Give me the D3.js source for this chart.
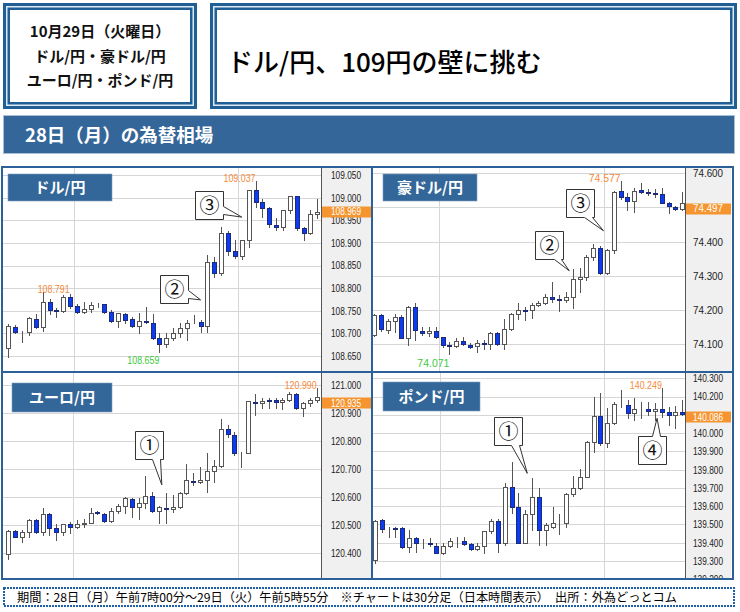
<!DOCTYPE html>
<html><head><meta charset="utf-8">
<script src="https://cdn.jsdelivr.net/npm/d3@7"></script>
<style>html,body{margin:0;padding:0;background:#fff}svg{display:block}</style>
</head><body>
<svg id="c" width="740" height="612"></svg>
<script>
// ---------------- DATA ----------------
const headerLines = ["10月29日（火曜日）", "ドル/円・豪ドル/円", "ユーロ/円・ポンド/円"];
const headline = "ドル/円、109円の壁に挑む";
const bannerText = "28日（月）の為替相場";
const footerText = "期間：28日（月）午前7時00分～29日（火）午前5時55分　※チャートは30分足（日本時間表示）　出所：外為どっとコム";
const pairTitles = ["ドル/円", "豪ドル/円", "ユーロ/円", "ポンド/円"];

// [open, high, low, close] per 30-minute bar
const usdjpy = [
[108.667,108.721,108.648,108.716],[108.715,108.718,108.700,108.702],[108.703,108.705,108.680,108.704],
[108.704,108.737,108.696,108.733],[108.732,108.743,108.711,108.715],[108.715,108.791,108.706,108.770],
[108.770,108.775,108.743,108.751],[108.751,108.755,108.737,108.750],[108.750,108.785,108.748,108.780],
[108.780,108.787,108.755,108.761],[108.760,108.766,108.746,108.748],[108.748,108.770,108.744,108.754],
[108.754,108.770,108.748,108.763],[108.764,108.768,108.758,108.764],[108.764,108.766,108.744,108.748],
[108.748,108.751,108.726,108.728],[108.727,108.746,108.715,108.744],[108.743,108.746,108.723,108.729],
[108.732,108.737,108.715,108.717],[108.717,108.744,108.700,108.727],[108.727,108.759,108.722,108.725],
[108.723,108.743,108.687,108.690],[108.689,108.700,108.659,108.676],[108.676,108.700,108.670,108.690],
[108.690,108.711,108.685,108.700],[108.700,108.722,108.693,108.711],[108.711,108.729,108.685,108.723],
[108.726,108.740,108.722,108.726],[108.726,108.729,108.704,108.717],[108.717,108.873,108.704,108.858],
[108.858,108.869,108.824,108.833],[108.833,108.936,108.829,108.921],[108.921,108.927,108.873,108.883],
[108.883,108.906,108.866,108.872],[108.872,108.906,108.864,108.906],[108.906,109.017,108.890,109.017],
[109.017,109.037,108.979,108.991],[108.991,108.998,108.958,108.978],[108.978,108.980,108.936,108.941],
[108.939,108.954,108.928,108.936],[108.936,108.973,108.928,108.973],[108.973,109.004,108.967,109.004],
[109.004,109.004,108.928,108.932],[108.932,108.936,108.906,108.921],[108.921,108.973,108.920,108.963],
[108.963,108.998,108.956,108.969]];
const audjpy = [
[74.127,74.189,74.124,74.186],[74.186,74.189,74.140,74.144],[74.142,74.173,74.134,74.168],
[74.168,74.189,74.137,74.181],[74.181,74.186,74.117,74.117],[74.117,74.213,74.098,74.208],
[74.210,74.222,74.114,74.142],[74.140,74.151,74.127,74.134],[74.134,74.151,74.124,74.140],
[74.140,74.151,74.117,74.120],[74.120,74.122,74.093,74.098],[74.098,74.108,74.071,74.095],
[74.095,74.117,74.093,74.110],[74.110,74.120,74.098,74.100],[74.097,74.105,74.088,74.093],
[74.096,74.112,74.078,74.103],[74.103,74.112,74.085,74.101],[74.101,74.137,74.085,74.134],
[74.134,74.137,74.098,74.100],[74.100,74.173,74.085,74.144],[74.144,74.192,74.142,74.190],
[74.190,74.220,74.173,74.200],[74.200,74.210,74.171,74.198],[74.200,74.220,74.176,74.215],
[74.215,74.228,74.213,74.220],[74.220,74.246,74.218,74.239],[74.239,74.283,74.225,74.231],
[74.231,74.244,74.198,74.229],[74.229,74.254,74.225,74.239],[74.239,74.319,74.205,74.290],
[74.290,74.322,74.254,74.298],[74.296,74.361,74.288,74.356],[74.356,74.392,74.347,74.381],
[74.381,74.386,74.306,74.308],[74.308,74.378,74.306,74.376],[74.376,74.549,74.368,74.546],
[74.549,74.577,74.524,74.530],[74.530,74.542,74.493,74.520],[74.520,74.556,74.488,74.549],
[74.551,74.571,74.542,74.546],[74.546,74.553,74.537,74.542],[74.542,74.553,74.530,74.540],
[74.539,74.556,74.512,74.514],[74.514,74.517,74.483,74.505],[74.501,74.504,74.493,74.496],
[74.496,74.546,74.493,74.514]];
const eurjpy = [
[120.396,120.483,120.378,120.479],[120.479,120.483,120.457,120.459],[120.459,120.483,120.441,120.477],
[120.477,120.521,120.459,120.518],[120.518,120.524,120.471,120.477],[120.477,120.560,120.465,120.540],
[120.540,120.542,120.465,120.491],[120.489,120.503,120.449,120.477],[120.477,120.504,120.465,120.503],
[120.503,120.512,120.471,120.495],[120.492,120.518,120.489,120.504],[120.504,120.521,120.495,120.509],
[120.509,120.560,120.507,120.545],[120.546,120.551,120.540,120.542],[120.540,120.545,120.512,120.516],
[120.516,120.560,120.512,120.551],[120.551,120.574,120.542,120.570],[120.568,120.602,120.545,120.596],
[120.592,120.598,120.530,120.566],[120.566,120.596,120.524,120.578],[120.578,120.675,120.560,120.605],
[120.605,120.620,120.548,120.552],[120.552,120.568,120.509,120.564],[120.560,120.614,120.507,120.557],
[120.557,120.608,120.548,120.566],[120.566,120.620,120.560,120.614],[120.614,120.717,120.611,120.661],
[120.658,120.685,120.643,120.654],[120.653,120.706,120.649,120.661],[120.661,120.756,120.618,120.694],
[120.694,120.732,120.655,120.711],[120.711,120.878,120.709,120.843],[120.843,120.857,120.816,120.824],
[120.822,120.834,120.750,120.756],[120.756,120.762,120.709,120.759],[120.759,120.943,120.756,120.943],
[120.938,120.967,120.893,120.935],[120.935,120.955,120.917,120.944],[120.946,120.955,120.917,120.944],
[120.946,120.952,120.917,120.938],[120.938,120.952,120.913,120.946],[120.946,120.976,120.944,120.968],
[120.968,120.973,120.914,120.917],[120.917,120.941,120.889,120.935],[120.935,120.952,120.925,120.946],
[120.946,120.990,120.941,120.958]];
const gbpjpy = [
[139.305,139.524,139.291,139.521],[139.524,139.528,139.461,139.473],[139.473,139.488,139.433,139.473],
[139.479,139.488,139.433,139.477],[139.479,139.484,139.369,139.378],[139.378,139.470,139.351,139.424],
[139.424,139.433,139.351,139.397],[139.397,139.419,139.369,139.397],[139.397,139.424,139.382,139.393],
[139.384,139.397,139.342,139.346],[139.346,139.397,139.338,139.384],[139.384,139.424,139.378,139.411],
[139.411,139.433,139.378,139.409],[139.409,139.433,139.388,139.393],[139.393,139.397,139.360,139.364],
[139.364,139.397,139.360,139.382],[139.382,139.466,139.342,139.466],[139.466,139.528,139.451,139.521],
[139.521,139.528,139.351,139.400],[139.397,139.725,139.388,139.707],[139.707,139.844,139.565,139.594],
[139.594,139.670,139.397,139.400],[139.400,139.579,139.397,139.557],[139.557,139.753,139.470,139.652],
[139.652,139.698,139.388,139.470],[139.470,139.506,139.388,139.497],[139.484,139.594,139.479,139.510],
[139.506,139.557,139.448,139.506],[139.506,139.670,139.488,139.665],[139.665,139.765,139.656,139.698],
[139.698,139.802,139.692,139.762],[139.762,139.957,139.758,139.953],[139.953,140.200,139.899,140.096],
[140.096,140.218,139.935,139.944],[139.944,140.136,139.926,140.054],[140.054,140.172,140.050,140.158],
[140.158,140.236,140.145,140.160],[140.154,140.181,140.081,140.108],[140.108,140.190,140.072,140.132],
[140.132,140.172,140.081,140.132],[140.130,140.172,140.099,140.121],[140.121,140.163,140.072,140.130],
[140.130,140.249,140.090,140.118],[140.118,140.141,140.045,140.099],[140.099,140.149,140.026,140.118],
[140.118,140.181,140.099,140.105]];

const usdjpyTicks = [108.650,108.700,108.750,108.800,108.850,108.900,108.950,109.000,109.050];
const audjpyTicks = [74.100,74.200,74.300,74.400,74.500,74.600];
const eurjpyTicks = [120.400,120.500,120.600,120.700,120.800,120.900,121.000];
const gbpjpyTicks = [139.200,139.300,139.400,139.500,139.600,139.700,139.800,139.900,140.000,140.100,140.200,140.300];
const lastPrices = [108.969, 74.497, 120.935, 140.086];

// marked highs / lows: panel, bar index, kind
const extremeMarks = [
  {panel:0, idx:5,  kind:"high", anchor:"start"},
  {panel:0, idx:36, kind:"high", anchor:"end"},
  {panel:0, idx:22, kind:"low",  anchor:"end"},
  {panel:1, idx:36, kind:"high", anchor:"end"},
  {panel:1, idx:11, kind:"low",  anchor:"end"},
  {panel:2, idx:45, kind:"high", anchor:"end"},
  {panel:3, idx:42, kind:"high", anchor:"end"}
];
// callouts: panel, label, anchor bar index (fractional) and price of the pointer tip
const callouts = [
  {panel:0, label:"③", idx:34.0, price:108.957},
  {panel:0, label:"②", idx:28.0, price:108.774},
  {panel:1, label:"③", idx:33.5, price:74.432},
  {panel:1, label:"②", idx:28.5, price:74.315},
  {panel:2, label:"①", idx:22.4, price:120.644},
  {panel:3, label:"①", idx:22.3, price:139.780},
  {panel:3, label:"④", idx:41.3, price:140.081}
];

// ---------------- LAYOUT ----------------
// yLo / yHi: pixel rows of the first and last tick value
const panelLayout = [
  {data:usdjpy, ticks:usdjpyTicks, lo:108.650, hi:109.050, left:3,   right:371, top:168, bottom:371, plotR:321, yLo:356,   yHi:175,   cx:[8.3,317.3], tb:[8,174,104,27]},
  {data:audjpy, ticks:audjpyTicks, lo:74.100,  hi:74.600,  left:373, right:731, top:168, bottom:371, plotR:685, yLo:344.3, yHi:173.3, cx:[374,682.3], tb:[383,174,94,27]},
  {data:eurjpy, ticks:eurjpyTicks, lo:120.400, hi:121.000, left:3,   right:371, top:373, bottom:579, plotR:321, yLo:553.3, yHi:385,   cx:[8.3,316.7], tb:[12,383,100,29]},
  {data:gbpjpy, ticks:gbpjpyTicks, lo:139.300, hi:140.300, left:373, right:731, top:373, bottom:579, plotR:685, yLo:561,   yHi:378.3, cx:[375,682.3], tb:[383,382,97,29]}
];
// callout box geometry relative to the tip: [dx, dy, side, base0, base1]
const calloutGeom = [
  [-47,-26,"right",15,23],
  [-41,-25,"right",15,23],
  [-38,-42,"bottom",18,26],
  [-34,-40,"bottom",19,26],
  [-27,-54,"bottom",17,25],
  [-33,-56,"bottom",17,25],
  [-19,18,"top",14,22]
];

const JP = "'Noto Sans CJK JP','Noto Sans',sans-serif";
const NUM = "'Liberation Sans Narrow','Liberation Sans',Arial,sans-serif";
const BLUE = "#1f5f96";
const fmt = d3.format(".3f");
const svg = d3.select("#c");

// ---------------- HEADER ----------------
function doubleBox(x,y,w,h){
  const layers = [[0,BLUE],[3,"#dfe9f2"],[4.5,BLUE],[7,"#fff"]];
  layers.forEach(([i,c]) => svg.append("rect").attr("x",x+i).attr("y",y+i)
    .attr("width",w-2*i).attr("height",h-2*i).attr("fill",c));
}
doubleBox(3,3,194,106);
doubleBox(210,3,527,106);
headerLines.forEach((t,i) => svg.append("text").attr("x",100).attr("y",37+i*24.5)
  .attr("text-anchor","middle").attr("font-family",JP).attr("font-weight","bold")
  .attr("font-size",15).attr("fill","#111").text(t));
svg.append("text").attr("x",227).attr("y",72).attr("font-family",JP).attr("font-weight",500)
  .attr("font-size",26).attr("fill","#000").text(headline);

svg.append("rect").attr("x",3.5).attr("y",115.5).attr("width",731).attr("height",38)
  .attr("fill","#346699").attr("stroke","#a8bfd6").attr("stroke-width",1);
svg.append("text").attr("x",25).attr("y",142).attr("font-family",JP).attr("font-weight","bold")
  .attr("font-size",18.5).attr("fill","#fff").text(bannerText);

// ---------------- PANELS ----------------
panelLayout.forEach((p,pi) => {
  const n = p.data.length;
  const xs = d3.scaleLinear().domain([0,n-1]).range(p.cx);
  const y = d3.scaleLinear().domain([p.lo,p.hi]).range([p.yLo,p.yHi]);
  const g = svg.append("g");
  const clipId = "clip"+pi;
  svg.append("clipPath").attr("id",clipId).append("rect")
    .attr("x",p.left).attr("y",p.top).attr("width",p.right-p.left).attr("height",p.bottom-p.top);
  const pg = g.append("g").attr("clip-path",`url(#${clipId})`);
  pg.append("rect").attr("x",p.left).attr("y",p.top).attr("width",p.plotR-p.left).attr("height",p.bottom-p.top).attr("fill","#fff");
  // horizontal grid
  pg.append("g").selectAll("line").data(p.ticks).join("line")
    .attr("x1",p.left).attr("x2",p.plotR)
    .attr("y1",d=>Math.round(y(d))+0.5).attr("y2",d=>Math.round(y(d))+0.5)
    .attr("stroke","#d6d6d6").attr("stroke-width",1);
  // vertical grid (12:00 and 24:00 boundaries)
  pg.append("g").selectAll("line").data([9.5,33.5]).join("line")
    .attr("x1",d=>Math.round(xs(d))+0.5).attr("x2",d=>Math.round(xs(d))+0.5)
    .attr("y1",p.top).attr("y2",p.bottom).attr("stroke","#d6d6d6");

  // candles
  const cg = pg.append("g").selectAll("g").data(p.data).join("g");
  const cxr = (i) => Math.round(xs(i))+0.5;
  cg.append("line").attr("x1",(d,i)=>cxr(i)).attr("x2",(d,i)=>cxr(i))
    .attr("y1",d=>Math.round(y(d[1]))).attr("y2",d=>Math.round(y(d[2]))+1)
    .attr("stroke","#555").attr("stroke-width",1);
  cg.append("rect")
    .attr("x",(d,i)=>cxr(i)-2).attr("width",4)
    .attr("y",d=>Math.round(y(Math.max(d[0],d[3])))+0.5)
    .attr("height",d=>Math.max(0,Math.round(y(Math.min(d[0],d[3])))-Math.round(y(Math.max(d[0],d[3])))))
    .attr("fill",d=>d[3]>d[0]?"#fff":(d[3]<d[0]?"#0a3cf2":"#333"))
    .attr("stroke",d=>d[3]>d[0]?"#555":(d[3]<d[0]?"#1c2a78":"#333"))
    .attr("stroke-width",1);

  // axis area
  g.append("rect").attr("x",p.plotR).attr("y",p.top).attr("width",p.right-p.plotR).attr("height",p.bottom-p.top).attr("fill","#f0f0f0");
  g.append("line").attr("x1",p.plotR+0.5).attr("x2",p.plotR+0.5).attr("y1",p.top).attr("y2",p.bottom).attr("stroke","#555");
  const ly = y(lastPrices[pi]);
  const visibleTicks = p.ticks.filter(t => Math.abs(y(t)-ly) > 4);
  const axG = g.append("g").attr("clip-path",`url(#${clipId})`)
    .append("g").attr("transform",`translate(${p.plotR},0)`)
    .call(d3.axisRight(y).tickValues(visibleTicks).tickFormat(fmt).tickSize(0).tickPadding(0));
  axG.select(".domain").remove();
  axG.selectAll("text").attr("x",(p.right-p.plotR)/2).attr("text-anchor","middle")
    .attr("font-family",NUM).attr("font-size",10.5).attr("fill","#222")
    .attr("textLength",30).attr("lengthAdjust","spacingAndGlyphs");

  // last price tag
  g.append("rect").attr("x",p.plotR+1).attr("y",Math.round(ly)-5.5).attr("width",p.right-p.plotR-1).attr("height",11).attr("fill","#f6952f");
  g.append("text").attr("x",(p.plotR+p.right)/2).attr("y",ly).attr("dy","0.36em")
    .attr("text-anchor","middle").attr("font-family",NUM).attr("font-size",10.5).attr("fill","#fff")
    .attr("textLength",30).attr("lengthAdjust","spacingAndGlyphs").text(fmt(lastPrices[pi]));

  // high / low marks
  extremeMarks.filter(m=>m.panel===pi).forEach(m => {
    const d = p.data[m.idx];
    const v = m.kind==="high"?d[1]:d[2];
    const xx = m.anchor==="start" ? xs(m.idx)-5 : xs(m.idx);
    g.append("text").attr("x",xx).attr("y", m.kind==="high" ? y(v)+1 : y(v)+12.5)
      .attr("text-anchor",m.anchor).attr("font-family",NUM).attr("font-size",10.5)
      .attr("fill", m.kind==="high" ? "#f58a3a" : "#3cc83c")
      .attr("textLength",32).attr("lengthAdjust","spacingAndGlyphs").text(fmt(v));
  });

  // pair title
  g.append("rect").attr("x",p.tb[0]).attr("y",p.tb[1]).attr("width",p.tb[2]).attr("height",p.tb[3])
    .attr("fill","#336699").attr("stroke","#7f9fc0").attr("stroke-width",0.6);
  g.append("text").attr("x",p.tb[0]+p.tb[2]/2).attr("y",p.tb[1]+p.tb[3]/2).attr("dy","0.36em")
    .attr("text-anchor","middle").attr("font-family",JP).attr("font-weight","bold").attr("font-size",15)
    .attr("fill","#fff").text(pairTitles[pi]);

  // callouts
  callouts.forEach((c,ci) => {
    if (c.panel!==pi) return;
    const [dx,dy,side,b0,b1] = calloutGeom[ci];
    const tx = xs(c.idx), ty = y(c.price);
    const bx = Math.round(tx+dx)+0.5, by = Math.round(ty+dy)+0.5, s = 28;
    let pts;
    if (side==="right") pts = [[bx,by],[bx+s,by],[bx+s,by+b0],[tx,ty],[bx+s,by+b1],[bx+s,by+s],[bx,by+s]];
    else if (side==="bottom") pts = [[bx,by],[bx+s,by],[bx+s,by+s],[bx+b1,by+s],[tx,ty],[bx+b0,by+s],[bx,by+s]];
    else pts = [[bx,by],[bx+b0,by],[tx,ty],[bx+b1,by],[bx+s,by],[bx+s,by+s],[bx,by+s]];
    g.append("path").attr("d",d3.line()(pts)+"Z").attr("fill","#fff").attr("stroke","#333").attr("stroke-width",1);
    g.append("text").attr("x",bx+s/2).attr("y",by+s/2).attr("dy","0.36em").attr("text-anchor","middle")
      .attr("font-family",JP).attr("font-size",20).attr("fill","#111").text(c.label);
  });
});

// panel frame
const frame = svg.append("g").attr("stroke","#2c6098").attr("stroke-width",2).attr("fill","none");
frame.append("rect").attr("x",2).attr("y",167).attr("width",731).attr("height",412);
frame.append("line").attr("x1",372).attr("x2",372).attr("y1",167).attr("y2",579);
frame.append("line").attr("x1",2).attr("x2",733).attr("y1",372).attr("y2",372);

// footer
svg.append("rect").attr("x",4).attr("y",588).attr("width",730).attr("height",18)
  .attr("fill","none").attr("stroke","#1f5fa8").attr("stroke-width",2).attr("stroke-dasharray","2,1");
svg.append("text").attr("x",17).attr("y",602).attr("font-family",JP).attr("font-size",12)
  .attr("fill","#000").attr("textLength",660).attr("lengthAdjust","spacingAndGlyphs").text(footerText);
</script>
</body></html>
